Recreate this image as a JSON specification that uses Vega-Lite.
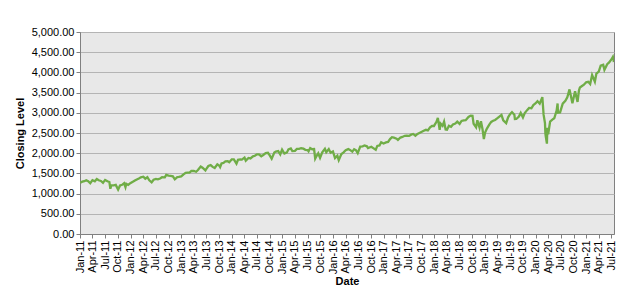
{
  "$schema": "https://vega.github.io/schema/vega-lite/v6.json",
  "width": 534,
  "height": 202,
  "autosize": "none",
  "padding": {"left": 80, "top": 32, "right": 29, "bottom": 61},
  "background": "white",
  "config": {
    "font": "Liberation Sans",
    "view": {"fill": "#e8e8e8", "stroke": "#808080", "strokeWidth": 1}
  },
  "data": {"values": [
    {"d":"2011-01-03","v":1271},{"d":"2011-01-18","v":1295},{"d":"2011-02-01","v":1307},{"d":"2011-02-15","v":1332},{"d":"2011-03-01","v":1306},{"d":"2011-03-16","v":1257},{"d":"2011-04-01","v":1332},{"d":"2011-04-18","v":1305},{"d":"2011-05-02","v":1361},{"d":"2011-05-16","v":1329},{"d":"2011-06-01","v":1314},{"d":"2011-06-16","v":1267},{"d":"2011-07-01","v":1339},{"d":"2011-07-18","v":1305},{"d":"2011-08-01","v":1286},{"d":"2011-08-08","v":1119},{"d":"2011-08-15","v":1204},{"d":"2011-09-01","v":1204},{"d":"2011-09-16","v":1216},{"d":"2011-10-03","v":1099},{"d":"2011-10-17","v":1200},{"d":"2011-11-01","v":1218},{"d":"2011-11-15","v":1257},{"d":"2011-11-25","v":1158},{"d":"2011-12-01","v":1244},{"d":"2011-12-15","v":1215},{"d":"2011-12-30","v":1258},
    {"d":"2012-01-17","v":1293},{"d":"2012-02-01","v":1324},{"d":"2012-02-15","v":1350},{"d":"2012-03-01","v":1374},{"d":"2012-03-15","v":1402},{"d":"2012-04-02","v":1419},{"d":"2012-04-16","v":1370},{"d":"2012-05-01","v":1405},{"d":"2012-05-15","v":1330},{"d":"2012-06-01","v":1278},{"d":"2012-06-15","v":1342},{"d":"2012-07-02","v":1365},{"d":"2012-07-16","v":1354},{"d":"2012-08-01","v":1375},{"d":"2012-08-15","v":1405},{"d":"2012-09-04","v":1404},{"d":"2012-09-14","v":1465},{"d":"2012-10-01","v":1444},{"d":"2012-10-15","v":1440},{"d":"2012-11-01","v":1427},{"d":"2012-11-15","v":1353},{"d":"2012-12-03","v":1409},{"d":"2012-12-14","v":1413},{"d":"2012-12-31","v":1426},
    {"d":"2013-01-15","v":1472},{"d":"2013-02-01","v":1513},{"d":"2013-02-15","v":1519},{"d":"2013-03-01","v":1518},{"d":"2013-03-15","v":1560},{"d":"2013-04-01","v":1562},{"d":"2013-04-18","v":1541},{"d":"2013-05-01","v":1582},{"d":"2013-05-21","v":1669},{"d":"2013-06-03","v":1640},{"d":"2013-06-24","v":1573},{"d":"2013-07-01","v":1614},{"d":"2013-07-15","v":1682},{"d":"2013-08-01","v":1706},{"d":"2013-08-15","v":1661},{"d":"2013-08-30","v":1633},{"d":"2013-09-18","v":1725},{"d":"2013-10-01","v":1695},{"d":"2013-10-08","v":1655},{"d":"2013-10-18","v":1745},{"d":"2013-11-01","v":1761},{"d":"2013-11-15","v":1798},{"d":"2013-12-02","v":1800},{"d":"2013-12-13","v":1775},{"d":"2013-12-31","v":1848},
    {"d":"2014-01-15","v":1848},{"d":"2014-02-03","v":1741},{"d":"2014-02-14","v":1838},{"d":"2014-03-03","v":1845},{"d":"2014-03-14","v":1841},{"d":"2014-04-02","v":1890},{"d":"2014-04-11","v":1815},{"d":"2014-05-01","v":1883},{"d":"2014-05-15","v":1870},{"d":"2014-06-02","v":1924},{"d":"2014-06-16","v":1937},{"d":"2014-07-01","v":1973},{"d":"2014-07-15","v":1973},{"d":"2014-08-01","v":1925},{"d":"2014-08-15","v":1955},{"d":"2014-09-02","v":2002},{"d":"2014-09-18","v":2011},{"d":"2014-10-01","v":1946},{"d":"2014-10-15","v":1862},{"d":"2014-11-03","v":2017},{"d":"2014-11-14","v":2039},{"d":"2014-12-01","v":2053},{"d":"2014-12-16","v":1972},{"d":"2014-12-29","v":2090},
    {"d":"2015-01-15","v":1992},{"d":"2015-02-02","v":2020},{"d":"2015-02-13","v":2096},{"d":"2015-03-02","v":2117},{"d":"2015-03-13","v":2053},{"d":"2015-04-01","v":2059},{"d":"2015-04-15","v":2106},{"d":"2015-05-01","v":2108},{"d":"2015-05-15","v":2122},{"d":"2015-06-01","v":2111},{"d":"2015-06-15","v":2084},{"d":"2015-07-01","v":2077},{"d":"2015-07-08","v":2047},{"d":"2015-07-20","v":2128},{"d":"2015-08-03","v":2098},{"d":"2015-08-17","v":2102},{"d":"2015-08-25","v":1867},{"d":"2015-09-01","v":1914},{"d":"2015-09-16","v":1996},{"d":"2015-09-29","v":1884},{"d":"2015-10-15","v":2023},{"d":"2015-11-03","v":2109},{"d":"2015-11-13","v":2023},{"d":"2015-12-01","v":2103},{"d":"2015-12-14","v":2013},{"d":"2015-12-31","v":2044},
    {"d":"2016-01-15","v":1880},{"d":"2016-02-01","v":1940},{"d":"2016-02-11","v":1829},{"d":"2016-03-01","v":1978},{"d":"2016-03-15","v":2015},{"d":"2016-04-01","v":2073},{"d":"2016-04-20","v":2102},{"d":"2016-05-02","v":2081},{"d":"2016-05-19","v":2040},{"d":"2016-06-01","v":2100},{"d":"2016-06-15","v":2071},{"d":"2016-06-27","v":2001},{"d":"2016-07-15","v":2162},{"d":"2016-08-01","v":2171},{"d":"2016-08-15","v":2190},{"d":"2016-09-01","v":2170},{"d":"2016-09-09","v":2128},{"d":"2016-10-03","v":2161},{"d":"2016-10-17","v":2127},{"d":"2016-11-04","v":2085},{"d":"2016-11-15","v":2180},{"d":"2016-12-01","v":2191},{"d":"2016-12-13","v":2271},{"d":"2016-12-30","v":2239},
    {"d":"2017-01-17","v":2268},{"d":"2017-02-01","v":2279},{"d":"2017-02-15","v":2349},{"d":"2017-03-01","v":2396},{"d":"2017-03-15","v":2385},{"d":"2017-04-03","v":2359},{"d":"2017-04-13","v":2329},{"d":"2017-05-01","v":2388},{"d":"2017-05-15","v":2402},{"d":"2017-06-01","v":2430},{"d":"2017-06-15","v":2432},{"d":"2017-07-03","v":2429},{"d":"2017-07-17","v":2459},{"d":"2017-08-01","v":2476},{"d":"2017-08-17","v":2430},{"d":"2017-09-01","v":2476},{"d":"2017-09-15","v":2500},{"d":"2017-10-02","v":2529},{"d":"2017-10-16","v":2557},{"d":"2017-11-01","v":2579},{"d":"2017-11-15","v":2564},{"d":"2017-12-01","v":2642},{"d":"2017-12-15","v":2675},{"d":"2017-12-29","v":2674},
    {"d":"2018-01-16","v":2776},{"d":"2018-01-26","v":2873},{"d":"2018-02-08","v":2581},{"d":"2018-02-15","v":2732},{"d":"2018-03-01","v":2677},{"d":"2018-03-12","v":2783},{"d":"2018-03-23","v":2588},{"d":"2018-04-02","v":2582},{"d":"2018-04-16","v":2678},{"d":"2018-05-01","v":2655},{"d":"2018-05-15","v":2711},{"d":"2018-06-01","v":2735},{"d":"2018-06-15","v":2780},{"d":"2018-07-02","v":2726},{"d":"2018-07-16","v":2798},{"d":"2018-08-01","v":2813},{"d":"2018-08-15","v":2818},{"d":"2018-09-04","v":2896},{"d":"2018-09-20","v":2931},{"d":"2018-10-03","v":2925},{"d":"2018-10-11","v":2728},{"d":"2018-10-29","v":2641},{"d":"2018-11-07","v":2814},{"d":"2018-11-23","v":2633},{"d":"2018-12-03","v":2790},{"d":"2018-12-14","v":2600},{"d":"2018-12-24","v":2351},
    {"d":"2019-01-02","v":2510},{"d":"2019-01-15","v":2610},{"d":"2019-02-01","v":2706},{"d":"2019-02-15","v":2775},{"d":"2019-03-01","v":2803},{"d":"2019-03-15","v":2822},{"d":"2019-04-01","v":2867},{"d":"2019-04-15","v":2906},{"d":"2019-04-30","v":2946},{"d":"2019-05-13","v":2812},{"d":"2019-06-03","v":2744},{"d":"2019-06-17","v":2889},{"d":"2019-07-01","v":2964},{"d":"2019-07-15","v":3014},{"d":"2019-08-01","v":2953},{"d":"2019-08-05","v":2844},{"d":"2019-08-15","v":2847},{"d":"2019-09-03","v":2906},{"d":"2019-09-16","v":2997},{"d":"2019-10-02","v":2887},{"d":"2019-10-15","v":2995},{"d":"2019-11-01","v":3066},{"d":"2019-11-15","v":3120},{"d":"2019-12-02","v":3113},{"d":"2019-12-16","v":3191},{"d":"2019-12-31","v":3231},
    {"d":"2020-01-15","v":3289},{"d":"2020-01-31","v":3226},{"d":"2020-02-19","v":3386},{"d":"2020-02-28","v":2954},{"d":"2020-03-09","v":2747},{"d":"2020-03-12","v":2481},{"d":"2020-03-16","v":2386},{"d":"2020-03-23","v":2237},{"d":"2020-03-26","v":2630},{"d":"2020-04-01","v":2470},{"d":"2020-04-15","v":2783},{"d":"2020-05-01","v":2830},{"d":"2020-05-15","v":2864},{"d":"2020-06-01","v":3056},{"d":"2020-06-08","v":3232},{"d":"2020-06-11","v":3002},{"d":"2020-06-26","v":3009},{"d":"2020-07-15","v":3227},{"d":"2020-08-03","v":3294},{"d":"2020-08-17","v":3382},{"d":"2020-09-02","v":3580},{"d":"2020-09-23","v":3237},{"d":"2020-10-12","v":3534},{"d":"2020-10-30","v":3270},{"d":"2020-11-09","v":3550},{"d":"2020-11-16","v":3627},{"d":"2020-12-01","v":3662},{"d":"2020-12-15","v":3695},{"d":"2020-12-31","v":3756},
    {"d":"2021-01-15","v":3768},{"d":"2021-01-29","v":3714},{"d":"2021-02-12","v":3934},{"d":"2021-03-04","v":3768},{"d":"2021-03-15","v":3969},{"d":"2021-04-01","v":4020},{"d":"2021-04-15","v":4170},{"d":"2021-05-03","v":4192},{"d":"2021-05-12","v":4063},{"d":"2021-06-01","v":4202},{"d":"2021-06-15","v":4246},{"d":"2021-07-01","v":4320},{"d":"2021-07-12","v":4384},{"d":"2021-07-16","v":4327},{"d":"2021-07-19","v":4258}
  ]},
  "mark": {"type": "line", "color": "#70ad47", "strokeWidth": 2.3, "clip": true},
  "encoding": {
    "x": {
      "field": "d", "type": "temporal", "title": "Date",
      "scale": {"domain": ["2011-01-01", "2021-07-20"]},
      "axis": {
        "format": "%b-%y", "labelAngle": -90,
        "tickCount": {"interval": "month", "step": 3},
        "grid": false, "labelFontSize": 11, "labelColor": "#000",
        "labelOverlap": false, "labelFlush": false, "labelBound": false,
        "domainColor": "#808080", "tickColor": "#808080", "tickSize": 4,
        "titleFontSize": 11, "titleFontWeight": "bold", "titleColor": "#000",
        "titlePadding": 2
      }
    },
    "y": {
      "field": "v", "type": "quantitative", "title": "Closing Level",
      "scale": {"domain": [0, 5000], "nice": false},
      "axis": {
        "format": ",.2f", "values": [0,500,1000,1500,2000,2500,3000,3500,4000,4500,5000],
        "gridColor": "#b4b4b4", "labelFontSize": 11, "labelColor": "#000",
        "domainColor": "#808080", "tickColor": "#808080", "tickSize": 4,
        "titleFontSize": 11, "titleFontWeight": "bold", "titleColor": "#000",
        "titlePadding": 6
      }
    }
  }
}
